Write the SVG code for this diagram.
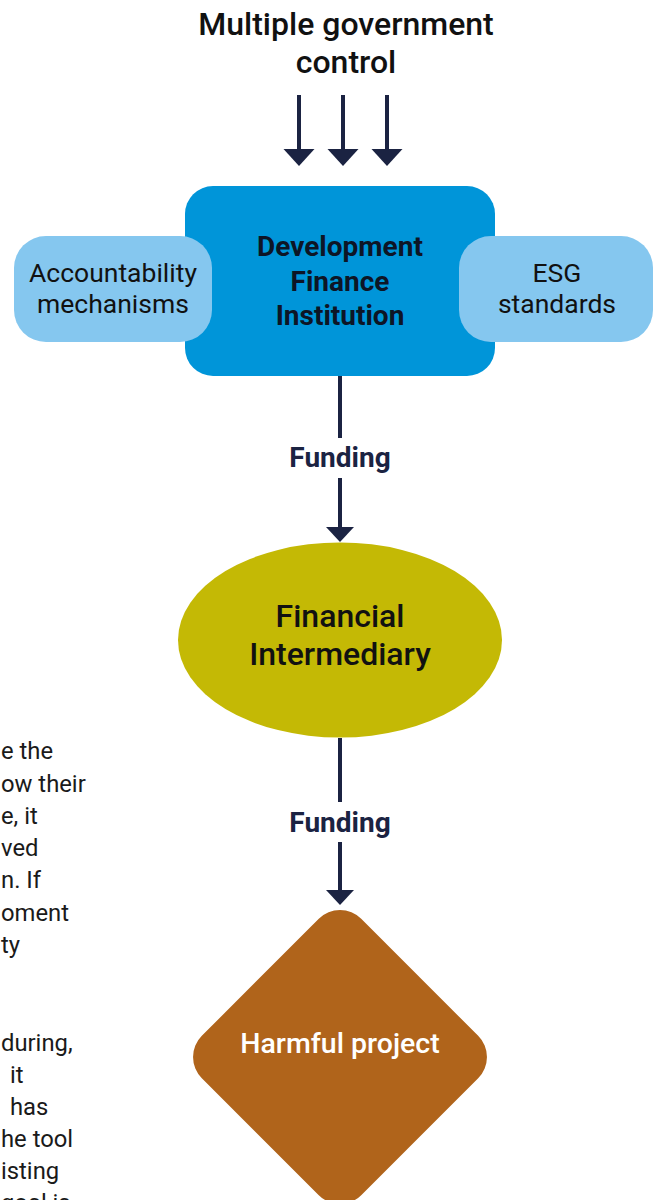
<svg xmlns="http://www.w3.org/2000/svg" width="653" height="1200" viewBox="0 0 653 1200">
<style>
text{font-family:Roboto,"Liberation Sans",sans-serif;text-anchor:middle}
.title{font-size:32px;font-weight:500;fill:#111}
.dfi{font-size:28px;font-weight:700;fill:#0d1526}
.side{font-size:26.5px;font-weight:400;fill:#111}
.fund{font-size:28px;font-weight:700;fill:#1b2342}
.fi{font-size:32px;font-weight:500;fill:#111}
.hp{font-size:28.5px;font-weight:500;fill:#fff}
.body{font-size:23.8px;font-weight:400;fill:#1a1a1a;text-anchor:start}
.ln{stroke:#1b2342;stroke-width:4;fill:none}
.hd{fill:#1b2342}
</style>
<g id="body-text">
<text class="body" x="1" y="759">e the</text>
<text class="body" x="1" y="792">ow their</text>
<text class="body" x="1" y="824">e, it</text>
<text class="body" x="1" y="856">ved</text>
<text class="body" x="1" y="888">n. If</text>
<text class="body" x="1" y="921">oment</text>
<text class="body" x="1" y="953">ty</text>
<text class="body" x="1" y="1051">during,</text>
<text class="body" x="10" y="1083">it</text>
<text class="body" x="10" y="1115">has</text>
<text class="body" x="1" y="1147">he tool</text>
<text class="body" x="1" y="1179">isting</text>
<text class="body" x="1" y="1211">goal is</text>
</g>
<g id="title">
<text class="title" x="346" y="35">Multiple government</text>
<text class="title" x="346" y="73">control</text>
</g>
<g id="connectors">
<line class="ln" x1="299" y1="95" x2="299" y2="150"/>
<polygon class="hd" points="283.5,149 314.5,149 299,166"/>
<line class="ln" x1="343" y1="95" x2="343" y2="150"/>
<polygon class="hd" points="327.5,149 358.5,149 343,166"/>
<line class="ln" x1="387" y1="95" x2="387" y2="150"/>
<polygon class="hd" points="371.5,149 402.5,149 387,166"/>
<line class="ln" x1="340" y1="376" x2="340" y2="438"/>
<line class="ln" x1="340" y1="478" x2="340" y2="528"/>
<polygon class="hd" points="326,527 354,527 340,542"/>
<text class="fund" x="340" y="467">Funding</text>
<line class="ln" x1="340" y1="738" x2="340" y2="802"/>
<line class="ln" x1="340" y1="842" x2="340" y2="891"/>
<polygon class="hd" points="326,890 354,890 340,905"/>
<text class="fund" x="340" y="832">Funding</text>
</g>
<g id="dfi">
<rect x="185" y="186" width="310" height="190" rx="28" fill="#0095d9"/>
<text class="dfi" x="340" y="256">Development</text>
<text class="dfi" x="340" y="291">Finance</text>
<text class="dfi" x="340" y="325">Institution</text>
</g>
<g id="accountability">
<rect x="14" y="236" width="198" height="106" rx="32" fill="#85c7ef"/>
<text class="side" x="113" y="282">Accountability</text>
<text class="side" x="113" y="313">mechanisms</text>
</g>
<g id="esg">
<rect x="459" y="236" width="194" height="106" rx="32" fill="#85c7ef"/>
<text class="side" x="557" y="282">ESG</text>
<text class="side" x="557" y="313">standards</text>
</g>
<g id="intermediary">
<ellipse cx="340" cy="640" rx="162" ry="97.5" fill="#c4b905"/>
<text class="fi" x="340" y="627">Financial</text>
<text class="fi" x="340" y="665">Intermediary</text>
</g>
<g id="harmful">
<rect x="-112.7" y="-112.7" width="225.4" height="225.4" rx="30" fill="#b0641b" transform="translate(340 1057) rotate(45)"/>
<text class="hp" x="340" y="1053">Harmful project</text>
</g>
</svg>
